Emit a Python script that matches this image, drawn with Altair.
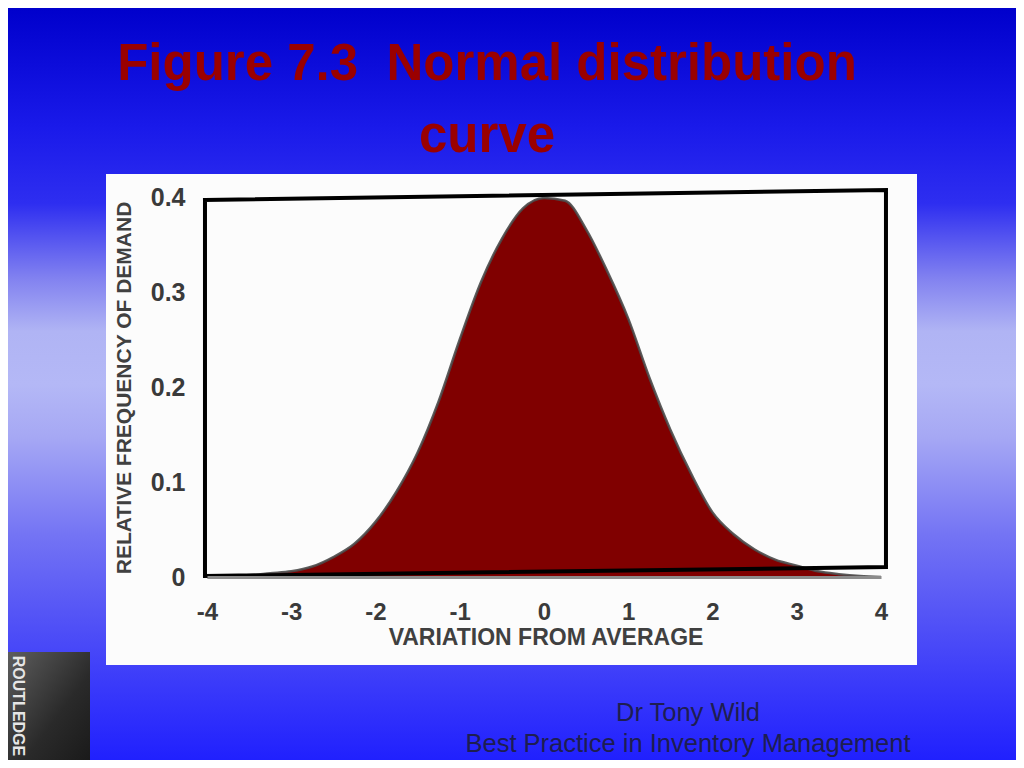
import altair as alt
import pandas as pd

# ---- data ----
x_vals = [-4.0, -3.75, -3.5, -3.25, -3.0, -2.75, -2.5, -2.25, -2.0, -1.75, -1.5, -1.25,
          -1.0, -0.75, -0.5, -0.25, 0.0, 0.25, 0.5, 0.75, 1.0, 1.25, 1.5, 1.75,
          2.0, 2.25, 2.5, 2.75, 3.0, 3.25, 3.5, 3.75, 4.0]
y_vals = [0.000, 0.001, 0.002, 0.004, 0.006, 0.011, 0.021, 0.035, 0.058, 0.090, 0.131, 0.185,
          0.250, 0.310, 0.356, 0.388, 0.399, 0.396, 0.366, 0.322, 0.272, 0.210, 0.155, 0.108,
          0.068, 0.045, 0.029, 0.018, 0.012, 0.006, 0.003, 0.001, 0.000]

frame_x = [-4.024, 4.059, 4.059, -4.024, -4.024]
frame_y = [0.3968, 0.4074, 0.0105, 0.001, 0.3968]

x_ticks = [-4, -3, -2, -1, 0, 1, 2, 3, 4]
y_ticks = [0, 0.1, 0.2, 0.3, 0.4]

title_lines = ["Figure 7.3\u00a0\u00a0Normal distribution", "curve"]
footer_lines = ["Dr Tony Wild", "Best Practice in Inventory Management"]
x_title = "VARIATION FROM AVERAGE"
y_title = "RELATIVE FREQUENCY OF DEMAND"
logo_text = "ROUTLEDGE"

# ---- layout ----
W, H = 674, 380
PAD = {"left": 199, "top": 189, "right": 135, "bottom": 183}
FONT = "Liberation Sans"

curve = pd.DataFrame({"x": x_vals, "y": y_vals})
frame = pd.DataFrame({"x": frame_x, "y": frame_y, "i": list(range(len(frame_x)))})
one = pd.DataFrame({"k": [0]})

xs = alt.Scale(domain=[-4, 4], nice=False, zero=False)
ys = alt.Scale(domain=[0, 0.4], nice=False, zero=False)

bg_grad = alt.LinearGradient(
    gradient="linear", x1=0, y1=0, x2=0, y2=1,
    stops=[
        alt.GradientStop(color="#0000cc", offset=0.0),
        alt.GradientStop(color="#1a1aea", offset=0.16),
        alt.GradientStop(color="#2e2ef0", offset=0.26),
        alt.GradientStop(color="#8282f0", offset=0.36),
        alt.GradientStop(color="#b0b4f4", offset=0.43),
        alt.GradientStop(color="#b4b8f6", offset=0.50),
        alt.GradientStop(color="#a6a8f4", offset=0.57),
        alt.GradientStop(color="#7474f4", offset=0.70),
        alt.GradientStop(color="#5656f6", offset=0.80),
        alt.GradientStop(color="#3a3afa", offset=0.90),
        alt.GradientStop(color="#2020fe", offset=1.0),
    ],
)

background = alt.Chart(one).mark_rect(fill=bg_grad).encode(
    x=alt.value(-PAD["left"]), x2=alt.value(W + PAD["right"]),
    y=alt.value(-PAD["top"]), y2=alt.value(H + PAD["bottom"]),
)

logo_grad = alt.LinearGradient(
    gradient="linear", x1=0, y1=0, x2=1, y2=1,
    stops=[alt.GradientStop(color="#5e5e5e", offset=0.0),
           alt.GradientStop(color="#2a2a2a", offset=0.6),
           alt.GradientStop(color="#1a1a1a", offset=1.0)],
)
logo_box = alt.Chart(one).mark_rect(fill=logo_grad).encode(
    x=alt.value(-PAD["left"]), x2=alt.value(-117),
    y=alt.value(455), y2=alt.value(H + PAD["bottom"]),
)
logo_label = alt.Chart(pd.DataFrame({"t": [logo_text]})).mark_text(
    angle=90, font=FONT, fontWeight="bold", fontSize=16, color="#e6e6e6",
    align="center", baseline="middle",
).encode(x=alt.value(-189), y=alt.value(509), text="t:N")

panel = alt.Chart(one).mark_rect(fill="#fcfcfc").encode(
    x=alt.value(-101), x2=alt.value(710), y=alt.value(-23), y2=alt.value(468),
)

area = alt.Chart(curve).mark_area(color="#800000", interpolate="monotone").encode(
    x=alt.X("x:Q", scale=xs, axis=alt.Axis(
        values=x_ticks, labelExpr="'' + datum.value", ticks=False, grid=False,
        domain=True, domainColor="#8c8c8c", domainWidth=3, zindex=1,
        labelFont=FONT, labelFontWeight="bold", labelFontSize=24, labelColor="#3a3a3a",
        labelPadding=23, labelFlush=False, title=None)),
    y=alt.Y("y:Q", scale=ys, axis=alt.Axis(
        values=y_ticks, labelExpr="datum.value == 0 ? '0' : format(datum.value, '.1f')",
        ticks=False, grid=False, domain=False, zindex=1,
        labelFont=FONT, labelFontWeight="bold", labelFontSize=25, labelColor="#3a3a3a",
        labelPadding=22, labelFlush=False, title=None)),
)

outline = alt.Chart(curve).mark_line(color="#4a4a4a", strokeWidth=2.5, interpolate="monotone",
                                     opacity=0.9).encode(
    x=alt.X("x:Q", scale=xs), y=alt.Y("y:Q", scale=ys),
)

box = alt.Chart(frame).mark_line(color="#000000", strokeWidth=4, strokeJoin="miter",
                                 strokeCap="square").encode(
    x=alt.X("x:Q", scale=xs), y=alt.Y("y:Q", scale=ys), order="i:O",
)

xt = alt.Chart(pd.DataFrame({"t": [x_title]})).mark_text(
    font=FONT, fontWeight="bold", fontSize=23, color="#404040",
    align="center", baseline="middle",
).encode(x=alt.value(339), y=alt.value(441), text="t:N")

yt = alt.Chart(pd.DataFrame({"t": [y_title]})).mark_text(
    angle=270, font=FONT, fontWeight="bold", fontSize=21, color="#404040",
    align="center", baseline="middle",
).encode(x=alt.value(-82), y=alt.value(191), text="t:N")

title = alt.Chart(pd.DataFrame({"t": title_lines, "yy": [-117, -45]})).mark_text(
    font=FONT, fontWeight="bold", fontSize=51, color="#9a0000",
    align="center", baseline="alphabetic",
).encode(x=alt.value(280), y=alt.Y("yy:Q", scale=None), text="t:N")

footer = alt.Chart(pd.DataFrame({"t": footer_lines, "yy": [516, 547]})).mark_text(
    font=FONT, fontSize=25.5, color="#1e1e50", align="center", baseline="middle",
).encode(x=alt.value(481), y=alt.Y("yy:Q", scale=None), text="t:N")

chart = alt.layer(
    background, logo_box, logo_label, panel, area, outline, box, xt, yt, title, footer
).properties(
    width=W, height=H, padding=PAD,
    autosize=alt.AutoSizeParams(type="none"),
    background="#ffffff",
).configure_view(stroke=None)

chart.save("out.html", embed_options={"renderer": "svg", "actions": False})
